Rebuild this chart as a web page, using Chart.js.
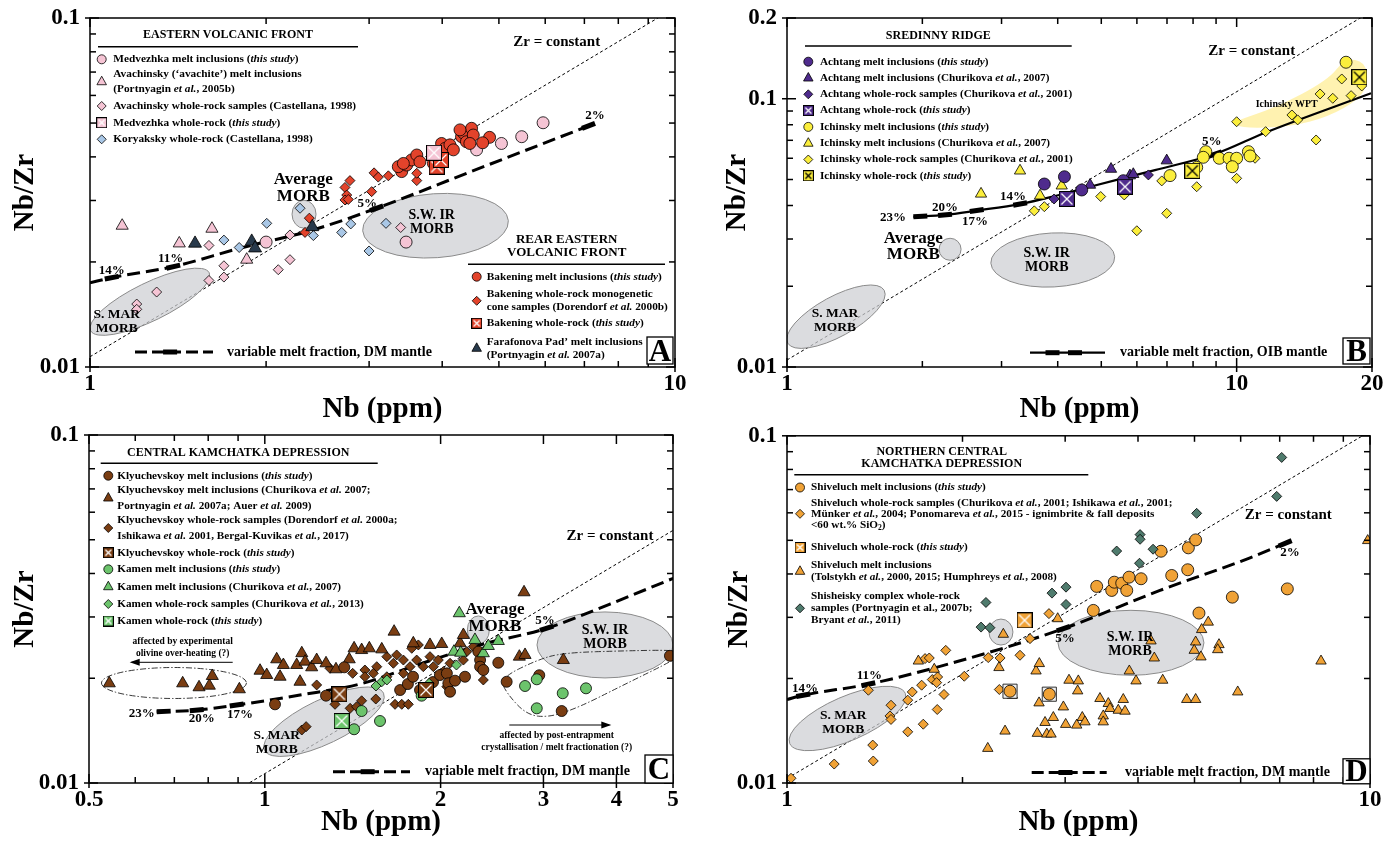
<!DOCTYPE html>
<html>
<head>
<meta charset="utf-8">
<script src="https://cdn.jsdelivr.net/npm/chart.js@4.4.1/dist/chart.umd.min.js"></script>
<style>
  html, body { margin: 0; padding: 0; background: #fff; }
  #wrap { position: relative; width: 1398px; height: 843px; overflow: hidden; }
  canvas { position: absolute; }
</style>
</head>
<body>
<div id="wrap">
  <canvas id="cA" width="699" height="425" style="left:0;top:0"></canvas>
  <canvas id="cB" width="699" height="425" style="left:699px;top:0"></canvas>
  <canvas id="cC" width="699" height="418" style="left:0;top:425px"></canvas>
  <canvas id="cD" width="699" height="418" style="left:699px;top:425px"></canvas>
</div>
<script>
const SERIF = '"Liberation Serif", "Times New Roman", serif';

// ---------- tick values / labels
const xTicksA = [1, 2, 3, 4, 5, 6, 7, 8, 9, 10];
const xLabelsA = ['1', '10'];
const yTicksA = [0.01, 0.02, 0.03, 0.04, 0.05, 0.06, 0.07, 0.08, 0.09, 0.1];
const yLabelsA = ['0.01', '0.1'];
const xTicksB = [1, 2, 3, 4, 5, 6, 7, 8, 9, 10, 20];
const xLabelsB = ['1', '10', '20'];
const yTicksB = [0.01, 0.02, 0.03, 0.04, 0.05, 0.06, 0.07, 0.08, 0.09, 0.1, 0.2];
const yLabelsB = ['0.01', '0.1', '0.2'];
const xTicksC = [0.5, 0.6, 0.7, 0.8, 0.9, 1, 2, 3, 4, 5];
const xLabelsC = ['0.5', '1', '2', '3', '4', '5'];

// ---------- A: Eastern Volcanic Front (Nb ppm, Nb/Zr)
const medvezhkaMI = [[2.00,0.0228],[3.47,0.0228],[4.58,0.0419],[5.05,0.0437],[5.47,0.0457],[5.95,0.0501]];
const avachinskyMI = [[1.135,0.0254],[1.421,0.0226],[1.616,0.0249],[1.853,0.0203]];
const avachinskyWR = [[1.597,0.0223],[1.694,0.0195],[1.694,0.0181],[1.597,0.0177],[1.300,0.0164],[1.202,0.01515],
  [1.202,0.01463],[2.197,0.0239],[2.098,0.0190],[2.197,0.0203],[3.397,0.0251]];
const medvezhkaWR = [[3.873,0.0411]];
const koryakskyWR = [[2.286,0.0285],[2.005,0.0258],[1.694,0.0231],[1.799,0.0220],[2.409,0.0238],[2.693,0.0243],
  [2.791,0.0257],[3.206,0.0258],[2.999,0.0215]];
const farafonovaMI = [[1.512,0.0226],[1.89,0.0229],[1.915,0.0219],[2.399,0.0252]];
const bakeningMI = [[3.41,0.0363],[3.365,0.0375],[3.478,0.0379],[3.545,0.0392],[3.619,0.0405],[3.664,0.0387],
  [3.433,0.0383],[3.864,0.0383],[3.99,0.0437],[4.045,0.0423],[4.124,0.0433],[4.18,0.0419],[4.316,0.0457],
  [4.35,0.0468],[4.40,0.0442],[4.49,0.0483],[4.52,0.0462],[4.46,0.0437],[4.82,0.0455],[4.29,0.0478],[4.69,0.0439]];
const bakeningWR = [[3.059,0.0360],[3.11,0.0350],[3.236,0.0353],[2.782,0.0342],[2.728,0.0327],[2.747,0.0311],
  [2.728,0.0301],[2.764,0.0302],[3.03,0.0318],[3.619,0.0342],[3.619,0.0359],[2.371,0.0267],[2.331,0.0243],[4.70,0.0439]];
const bakeningWRts = [[3.915,0.0375],[3.98,0.0392]];
const zrA = [[1,0.0107],[10,0.107]];
const meltA = [[1.0,0.01744],[1.089,0.01803],[1.388,0.01939],[1.804,0.0219],[2.405,0.0247],[3.09,0.0285],
  [4.46,0.0362],[6.36,0.0456],[7.30,0.0499]];

// ---------- B: Sredinny Ridge
const achtangMI = [[3.735,0.0481],[4.14,0.0512],[4.524,0.0457],[5.598,0.0495]];
const achtangMIc = [[4.72,0.0477],[5.256,0.0547],[5.79,0.0517],[5.89,0.0523],[6.99,0.0588]];
const achtangWR = [[3.926,0.0423],[6.364,0.0520]];
const achtangWRts = [[4.19,0.0423],[5.647,0.0470]];
const ichinskyMI = [[8.54,0.0635],[8.43,0.0605],[8.15,0.0555],[7.11,0.0517],[9.15,0.060],[9.62,0.060],[10.0,0.060],
  [9.78,0.0558],[10.62,0.0635],[10.71,0.0612],[17.51,0.1368]];
const ichinskyMIc = [[2.701,0.0442],[3.298,0.0539],[3.654,0.0435],[4.083,0.0474]];
const ichinskyWR = [[3.548,0.0382],[3.735,0.0396],[4.985,0.0432],[5.624,0.0438],[6.815,0.0494],[6.99,0.0374],
  [5.998,0.0322],[8.15,0.0470],[10.0,0.0505],[10.0,0.0821],[11.6,0.0754],[10.99,0.060],[15.02,0.0702],[13.27,0.0870],
  [13.67,0.0834],[15.33,0.1042],[16.36,0.1004],[17.13,0.1185],[17.97,0.1027],[18.98,0.1116]];
const ichinskyWRts = [[7.97,0.0539],[18.75,0.1203]];
const ichinskyWPT = [[9.75,0.0821],[12.17,0.0922],[16.0,0.1175],[17.42,0.1416],[19.31,0.1375],[19.63,0.1142],
  [18.65,0.099],[16.0,0.0858],[13.27,0.0787],[10.26,0.0776]];
const zrB = [[1,0.01062],[20,0.2124]];
const meltB = [[1.91,0.0363],[2.246,0.0369],[2.642,0.0383],[3.30,0.0405],[3.905,0.0432],[4.72,0.047],
  [6.58,0.0542],[8.95,0.0622],[11.57,0.0747],[19.9,0.1048]];

// ---------- C: Central Kamchatka Depression
const klyuMI = [[1.041,0.01683],[1.273,0.01782],[1.368,0.0215],[1.705,0.0185],[1.758,0.01925],[1.794,0.0202],
  [1.844,0.0185],[1.941,0.0195],[1.995,0.02043],[2.05,0.02066],[2.062,0.01934],[2.076,0.01829],[2.117,0.01968],
  [2.202,0.0202],[2.321,0.02384],[2.337,0.02256],[2.337,0.02159],[2.367,0.02112],[2.511,0.02216],[2.595,0.01954],
  [2.951,0.0204],[3.224,0.0161],[4.94,0.0232]];
const klyuMIc = [[0.5416,0.01934],[0.7234,0.01934],[0.7716,0.01884],[0.8035,0.01904],[0.813,0.0203],[0.9045,0.01859],
  [0.9814,0.02102],[1.0076,0.02043],[1.048,0.02267],[1.076,0.02183],[1.062,0.0202],[1.134,0.02183],[1.157,0.0236],
  [1.172,0.02232],[1.203,0.0215],[1.227,0.02256],[1.273,0.02208],[1.324,0.02122],[1.395,0.02267],[1.422,0.02438],
  [1.465,0.0241],[1.51,0.02438],[1.586,0.02421],[1.665,0.02722],[1.796,0.0252],[1.918,0.02493],[2.009,0.02509],
  [2.16,0.0252],[2.188,0.02663],[2.779,0.03532],[2.728,0.02307],[2.79,0.02333],[3.245,0.02256],[1.149,0.01954]];
const klyuWR = [[1.157,0.0142],[1.177,0.01452],[1.227,0.01913],[1.293,0.02136],[1.319,0.01683],[1.40,0.01639],
  [1.436,0.01656],[1.465,0.01723],[1.549,0.01743],[1.414,0.02066],[1.484,0.02112],[1.534,0.02066],[1.484,0.0202],
  [1.555,0.02159],[1.618,0.0202],[1.618,0.02307],[1.66,0.02208],[1.682,0.02333],[1.727,0.02256],[1.727,0.02066],
  [1.773,0.02159],[1.785,0.02438],[1.82,0.02256],[1.832,0.02493],[1.868,0.02159],[1.918,0.02307],[1.918,0.01891],
  [1.944,0.02159],[1.982,0.02256],[2.022,0.0209],[2.05,0.01891],[2.076,0.02208],[2.188,0.02256],[2.217,0.02384],
  [2.275,0.02465],[2.367,0.01977],[1.671,0.01683],[1.716,0.01683],[1.761,0.01683]];
const klyuWRts = [[1.342,0.01799],[1.888,0.0185]];
const kamenMI = [[1.465,0.0161],[1.422,0.01427],[1.575,0.01507],[1.856,0.01782],[2.79,0.0190],[2.922,0.01986],
  [2.922,0.01639],[3.237,0.01811],[3.548,0.01871]];
const kamenMIc = [[2.153,0.03075],[2.29,0.02577],[2.367,0.0236],[2.414,0.02476],[2.511,0.02559],[2.108,0.02384],[2.165,0.02368]];
const kamenWR = [[1.55,0.0190],[1.586,0.01954],[1.618,0.01977],[2.129,0.02183],[1.911,0.01934]];
const kamenWRts = [[1.354,0.01507]];
const zrC = [[0.5,0.00532],[5,0.0532]];
const meltC = [[0.653,0.01603],[0.7646,0.0162],[0.895,0.01675],[1.149,0.0179],[1.455,0.01925],[1.844,0.02198],
  [2.337,0.02493],[3.038,0.02783],[3.90,0.03268],[5.006,0.03875]];
const overheatC = [[0.699,0.01938]];
const fractC = [[2.528,0.01999],[2.922,0.02256],[3.245,0.02368],[4.2,0.024],[5.0,0.0241],[5.3,0.0236],[4.058,0.01891],
  [3.465,0.01656],[3.078,0.01544],[2.809,0.01568],[2.595,0.01811]];

// ---------- D: Northern Central Kamchatka Depression
const shivMI = [[2.413,0.01838],[2.818,0.01802],[3.353,0.03141],[3.398,0.03683],[3.606,0.03586],[3.643,0.03788],
  [3.751,0.03763],[3.826,0.03586],[3.861,0.03916],[4.049,0.03875],[4.381,0.04651],[4.57,0.0396],[4.868,0.04113],
  [4.88,0.04757],[5.023,0.05014],[5.089,0.03086],[5.806,0.0343],[7.214,0.03623]];
const shivWR = [[1.016,0.01032],[1.205,0.01134],[1.406,0.01157],[1.403,0.01286],[1.379,0.0185],[1.508,0.01675],
  [1.502,0.0156],[1.508,0.01524],[1.611,0.01404],[1.611,0.01732],[1.64,0.01829],[1.702,0.01913],[1.713,0.01477],
  [1.775,0.01986],[1.813,0.0202],[1.806,0.01946],[1.81,0.01628],[1.859,0.01799],[1.725,0.02282],[1.754,0.02291],
  [1.872,0.0241],[2.014,0.0203],[2.214,0.02297],[2.32,0.02291],[2.313,0.01859],[2.51,0.02333],[2.611,0.02605],[2.814,0.03075]];
const shivWRts = [[2.556,0.02941]];
const shivWRbox = [[2.413,0.01838],[2.818,0.01802]];
const shivMIt = [[1.68,0.02245],[1.789,0.02126],[2.21,0.01258],[2.31,0.0215],[2.35,0.02681],[2.366,0.01411],
  [2.435,0.0179],[2.674,0.02102],[2.688,0.0139],[2.709,0.02208],[2.706,0.01701],[2.771,0.01494],[2.79,0.01383],
  [2.837,0.01383],[2.863,0.01544],[2.913,0.02973],[2.979,0.01656],[3.006,0.01475],[3.046,0.01977],[3.14,0.01468],
  [3.152,0.01842],[3.16,0.01968],[3.21,0.01544],[3.244,0.015],[3.442,0.01751],[3.487,0.0156],[3.487,0.015],
  [3.557,0.01694],[3.581,0.01639],[3.70,0.0162],[3.774,0.0174],[3.80,0.0161],[3.865,0.02102],[3.969,0.01968],
  [4.211,0.02565],[4.266,0.02291],[4.41,0.01977],[4.849,0.0174],[5.023,0.0174],[5.023,0.02547],[4.995,0.0241],
  [5.129,0.02307],[5.143,0.02766],[5.279,0.02906],[5.508,0.02503],[5.48,0.02421],[5.931,0.01829],[8.241,0.02245],[9.91,0.04991]];
const shishWR = [[2.152,0.02812],[2.229,0.02801],[2.194,0.03311],[2.848,0.03523],[3.01,0.03665],[3.01,0.03268],
  [3.677,0.04657],[4.033,0.05193],[4.033,0.05035],[4.245,0.04713],[4.024,0.04295],[5.043,0.05979],[6.918,0.06691],[7.056,0.08663]];
const zrD = [[1,0.0103],[10,0.103]];
const meltD = [[1.0,0.0174],[1.066,0.0179],[1.379,0.01925],[1.904,0.02208],[2.979,0.02783],[4.363,0.03586],
  [6.226,0.04452],[7.339,0.04991]];

// MORB fields (centres in data units)
const smarA = [1.266, 0.01538], avgA = [2.322, 0.0274], swirA = [3.896, 0.0254];
const smarB = [1.285, 0.0154], avgB = [2.305, 0.02747], swirB = [3.90, 0.02506];
const smarC = [1.263, 0.0150], avgC = [2.321, 0.02753], swirC = [3.824, 0.02493];
const smarD = [1.27, 0.01534], avgD = [2.328, 0.02721], swirD = [3.89, 0.02534];

// colours
const PINK = '#f5c4d4', BLUE = '#a9c7e6', RED = '#e3432b', DARK = '#283a4c';
const PURPLE = '#4f2b8d', YELLOW = '#fbee3c', BROWN = '#7a3d12', GREEN = '#6cc46c';
const ORANGE = '#f0a236', SHISH = '#4f7b6d';

// ---------- helpers
function pts(a) { return a.map(p => ({ x: p[0], y: p[1] })); }

function makeBox(fill, xc, s) {
  const c = document.createElement('canvas');
  c.width = s; c.height = s;
  const g = c.getContext('2d');
  g.fillStyle = fill; g.fillRect(0, 0, s, s);
  g.strokeStyle = xc; g.lineWidth = 1.3;
  const m = 2.5;
  g.beginPath(); g.moveTo(m, m); g.lineTo(s - m, s - m); g.moveTo(s - m, m); g.lineTo(m, s - m); g.stroke();
  g.strokeStyle = '#000'; g.lineWidth = 1; g.strokeRect(0.5, 0.5, s - 1, s - 1);
  return c;
}

function series(s, order) {
  const ds = {
    type: 'scatter', data: pts(s.data), order: order,
    pointBackgroundColor: s.color, pointBorderColor: '#000', pointBorderWidth: 0.8,
    pointRadius: s.r, pointHoverRadius: s.r, pointStyle: s.shape
  };
  if (s.shape === 'box') { ds.pointStyle = makeBox(s.color, s.xc || '#fff', s.r * 2); }
  return ds;
}

function rich(ctx, str, x, y, size, align, sx) {
  const parts = str.split(/(\*[^*]+\*|~[^~]+~)/).filter(Boolean).map(p => {
    if (p[0] === '*') return { t: p.slice(1, -1), f: 'italic bold ' + size + 'px ' + SERIF, dy: 0 };
    if (p[0] === '~') return { t: p.slice(1, -1), f: 'bold ' + (size * 0.68) + 'px ' + SERIF, dy: size * 0.28 };
    return { t: p, f: 'bold ' + size + 'px ' + SERIF, dy: 0 };
  });
  let w = 0;
  parts.forEach(p => { ctx.font = p.f; p.w = ctx.measureText(p.t).width; w += p.w; });
  ctx.save();
  ctx.translate(x, y); ctx.scale(sx || 1, 1);
  let cx = align === 'left' ? 0 : (align === 'right' ? -w : -w / 2);
  ctx.textBaseline = 'middle'; ctx.textAlign = 'left'; ctx.fillStyle = '#000';
  parts.forEach(p => { ctx.font = p.f; ctx.fillText(p.t, cx, p.dy); cx += p.w; });
  ctx.restore();
}

function marker(ctx, sh, x, y, r, fill, xc) {
  ctx.save();
  if (sh === 'box') {
    const s = Math.round(r * 2);
    ctx.drawImage(makeBox(fill, xc || '#fff', s), x - s / 2, y - s / 2);
    ctx.restore(); return;
  }
  ctx.fillStyle = fill; ctx.strokeStyle = '#000'; ctx.lineWidth = 0.8;
  ctx.beginPath();
  if (sh === 'circle') ctx.arc(x, y, r, 0, Math.PI * 2);
  else if (sh === 'triangle') {
    ctx.moveTo(x, y - r); ctx.lineTo(x + r * 0.866, y + r * 0.55); ctx.lineTo(x - r * 0.866, y + r * 0.55); ctx.closePath();
  } else {
    ctx.moveTo(x, y - r); ctx.lineTo(x + r, y); ctx.lineTo(x, y + r); ctx.lineTo(x - r, y); ctx.closePath();
  }
  ctx.fill(); ctx.stroke();
  ctx.restore();
}

function smoothClosed(ctx, p) {
  const n = p.length;
  const mid = (a, b) => [(a[0] + b[0]) / 2, (a[1] + b[1]) / 2];
  const m0 = mid(p[n - 1], p[0]);
  ctx.moveTo(m0[0], m0[1]);
  for (let i = 0; i < n; i++) {
    const m = mid(p[i], p[(i + 1) % n]);
    ctx.quadraticCurveTo(p[i][0], p[i][1], m[0], m[1]);
  }
  ctx.closePath();
}

function seg(ctx, x1, y1, x2, y2) { ctx.beginPath(); ctx.moveTo(x1, y1); ctx.lineTo(x2, y2); ctx.stroke(); }

const PANELS = {};

const annot = {
  id: 'annot',
  afterDatasetDraw(chart, args) {
    const P = PANELS[chart.canvas.id];
    const { ctx, chartArea: a } = chart;
    const X = chart.scales.x, Y = chart.scales.y;
    const px = d => [X.getPixelForValue(d[0]), Y.getPixelForValue(d[1])];
    if (args.index === 0) {
      ctx.save();
      ctx.beginPath(); ctx.rect(a.left, a.top, a.right - a.left, a.bottom - a.top); ctx.clip();
      if (P.blob) {
        ctx.beginPath(); smoothClosed(ctx, P.blob.map(px));
        ctx.fillStyle = 'rgba(255,238,150,0.75)'; ctx.fill();
      }
      P.ellipses.forEach(e => {
        const c = px(e.c);
        ctx.beginPath(); ctx.ellipse(c[0], c[1], e.rx, e.ry, (e.rot || 0) * Math.PI / 180, 0, Math.PI * 2);
        ctx.fillStyle = 'rgba(205,206,211,0.72)'; ctx.fill();
        ctx.strokeStyle = '#8a8a8a'; ctx.lineWidth = 1; ctx.stroke();
      });
      (P.outlines || []).forEach(o => {
        ctx.beginPath();
        if (o.c) { const c = px(o.c); ctx.ellipse(c[0], c[1], o.rx, o.ry, 0, 0, Math.PI * 2); }
        else smoothClosed(ctx, o.poly.map(px));
        ctx.setLineDash([6, 2, 1.5, 2]); ctx.strokeStyle = '#222'; ctx.lineWidth = 0.9; ctx.stroke();
        ctx.setLineDash([]);
      });
      ctx.restore();
    }
    if (args.index === 1) {
      const p = P.melt.map(px);
      ctx.save();
      ctx.strokeStyle = '#000'; ctx.lineWidth = 5; ctx.lineCap = 'butt';
      P.meltMarks.forEach(i => {
        const a0 = p[Math.max(i - 1, 0)], a1 = p[Math.min(i + 1, p.length - 1)];
        let dx = a1[0] - a0[0], dy = a1[1] - a0[1];
        const L = Math.hypot(dx, dy); dx /= L; dy /= L;
        const h = 7, q = p[i];
        let s = [q[0] - dx * h, q[1] - dy * h], e = [q[0] + dx * h, q[1] + dy * h];
        if (i === 0) { s = q; e = [q[0] + dx * 2 * h, q[1] + dy * 2 * h]; }
        if (i === p.length - 1) { s = [q[0] - dx * 2 * h, q[1] - dy * 2 * h]; e = q; }
        seg(ctx, s[0], s[1], e[0], e[1]);
      });
      ctx.restore();
    }
  },
  afterDraw(chart) {
    const P = PANELS[chart.canvas.id];
    const { ctx, chartArea: a } = chart;
    const X = chart.scales.x, Y = chart.scales.y;
    const L = a.left, T = a.top;
    ctx.save();
    // frame + inward ticks
    ctx.strokeStyle = '#000'; ctx.lineWidth = 1.5;
    ctx.strokeRect(a.left, a.top, a.right - a.left, a.bottom - a.top);
    X.ticks.forEach(t => {
      const x = X.getPixelForValue(t.value);
      const major = P.xl.includes(String(t.value));
      const n = major ? 9 : 6;
      seg(ctx, x, a.bottom + (major ? 5 : 0), x, a.bottom - n);
      seg(ctx, x, a.top, x, a.top + n);
    });
    Y.ticks.forEach(t => {
      const y = Y.getPixelForValue(t.value);
      const major = P.yl.includes(String(t.value));
      const n = major ? 9 : 6;
      seg(ctx, a.left - (major ? 5 : 0), y, a.left + n, y);
      seg(ctx, a.right, y, a.right - n, y);
    });
    // legends
    P.legends.forEach(g => {
      g.hdr.forEach((h, k) => rich(ctx, h, L + g.hx, T + g.hy[k], g.hs, 'center'));
      ctx.lineWidth = 1.6; ctx.strokeStyle = '#000';
      seg(ctx, L + g.ul[0], T + g.ul[2], L + g.ul[1], T + g.ul[2]);
      g.items.forEach(it => {
        const r = it.sh === 'box' ? 5.5 : (it.sh === 'triangle' ? 5.5 : 4.5);
        marker(ctx, it.sh, L + g.mx, T + it.y, r, it.c, it.xc);
        const n = it.L.length;
        const dy = it.dy || g.dy;
        it.L.forEach((s, k) => rich(ctx, s, L + g.tx, T + it.y + (k - (n - 1) / 2) * dy, g.s, 'left', g.sx));
      });
    });
    // free texts
    P.texts.forEach(t => rich(ctx, t.t, L + t.x, T + t.y, t.s || 13, t.al || 'center', t.sx));
    // arrows
    (P.arrows || []).forEach(ar => {
      const x1 = L + ar[0], y1 = T + ar[1], x2 = L + ar[2], y2 = T + ar[3];
      ctx.lineWidth = 1; seg(ctx, x1, y1, x2, y2);
      const d = Math.sign(x2 - x1);
      ctx.beginPath(); ctx.moveTo(x2 + d * 2, y2); ctx.lineTo(x2 - d * 8, y2 - 3.5); ctx.lineTo(x2 - d * 8, y2 + 3.5);
      ctx.closePath(); ctx.fillStyle = '#000'; ctx.fill();
    });
    // melt-fraction key line
    const sm = P.sample;
    const sx1 = L + sm.x1, sx2 = L + sm.x2, sy = T + sm.y;
    ctx.lineWidth = sm.solid ? 2.2 : 3;
    ctx.setLineDash(sm.solid ? [] : [12, 5]);
    seg(ctx, sx1, sy, sx2, sy);
    ctx.setLineDash([]);
    ctx.lineWidth = 5;
    sm.marks.forEach(f => { const x = sx1 + f * (sx2 - sx1); seg(ctx, x - 7, sy, x + 7, sy); });
    // panel letter
    const b = P.letter;
    ctx.fillStyle = '#fff'; ctx.fillRect(L + b.x, T + b.y, b.w, b.h);
    ctx.lineWidth = 1.3; ctx.strokeRect(L + b.x, T + b.y, b.w, b.h);
    ctx.fillStyle = '#000'; ctx.font = 'bold 31px ' + SERIF; ctx.textAlign = 'center'; ctx.textBaseline = 'middle';
    ctx.fillText(b.t, L + b.x + b.w / 2, T + b.y + b.h / 2 + 2);
    ctx.restore();
  }
};

function build(id, P) {
  const datasets = [
    { type: 'line', data: pts(P.zr), borderColor: '#000', borderWidth: 1, borderDash: [3, 2.5], pointRadius: 0, order: 1000, fill: false },
    { type: 'line', data: pts(P.melt), borderColor: '#000', borderWidth: P.meltW, borderDash: P.meltDash,
      pointRadius: 0, order: 999, fill: false, cubicInterpolationMode: 'monotone' }
  ];
  const n = P.series.length;
  P.series.forEach((s, i) => datasets.push(series(s, n - i)));
  PANELS[id] = P;
  const xFont = { family: SERIF, size: 23, weight: 'bold', lineHeight: 1 };
  const yFont = { family: SERIF, size: 23, weight: 'bold', lineHeight: 0.8 };
  const titleFont = { family: SERIF, size: 29, weight: 'bold', lineHeight: 1.1 };
  new Chart(document.getElementById(id), {
    type: 'scatter',
    data: { datasets },
    options: {
      responsive: false, animation: false, devicePixelRatio: 1, events: [],
      layout: { padding: { top: P.pad[0], right: P.pad[1], left: 0, bottom: 0 } },
      plugins: { legend: { display: false }, tooltip: { enabled: false } },
      scales: {
        x: {
          type: 'logarithmic', min: P.xr[0], max: P.xr[1],
          grid: { display: false, drawTicks: false }, border: { display: false },
          afterBuildTicks: sc => { sc.ticks = P.xt.map(v => ({ value: v })); },
          afterFit: sc => { sc.height = P.xh; },
          ticks: { autoSkip: false, maxRotation: 0, minRotation: 0, padding: P.xpad, color: '#000', font: xFont,
            callback: v => P.xl.includes(String(v)) ? String(v) : '' },
          title: { display: true, text: 'Nb (ppm)', color: '#000', font: titleFont, padding: { top: 0, bottom: P.xtp } }
        },
        y: {
          type: 'logarithmic', min: P.yr[0], max: P.yr[1],
          grid: { display: false, drawTicks: true, tickLength: 10 }, border: { display: false },
          afterBuildTicks: sc => { sc.ticks = P.yt.map(v => ({ value: v })); },
          afterFit: sc => { sc.width = P.yw; },
          ticks: { autoSkip: false, padding: 0, color: '#000', font: yFont,
            callback: v => P.yl.includes(String(v)) ? String(v) : '' },
          title: { display: true, text: 'Nb/Zr', color: '#000', font: titleFont, padding: { top: P.ytp, bottom: 0 } }
        }
      }
    },
    plugins: [annot]
  });
}

// ---------- Panel A
build('cA', {
  pad: [18, 24], yw: 90, xh: 58, xpad: 6, xtp: 0, ytp: 10,
  xr: [1, 10], yr: [0.01, 0.1], xt: xTicksA, xl: xLabelsA, yt: yTicksA, yl: yLabelsA,
  zr: zrA, melt: meltA, meltW: 3, meltDash: [13, 6], meltMarks: [1, 2, 5, 8],
  series: [
    { data: avachinskyWR, shape: 'rectRot', color: PINK, r: 5 },
    { data: koryakskyWR, shape: 'rectRot', color: BLUE, r: 5 },
    { data: avachinskyMI, shape: 'triangle', color: PINK, r: 7 },
    { data: medvezhkaMI, shape: 'circle', color: PINK, r: 6 },
    { data: bakeningWR, shape: 'rectRot', color: RED, r: 5 },
    { data: bakeningMI, shape: 'circle', color: RED, r: 6 },
    { data: bakeningWRts, shape: 'box', color: RED, r: 8 },
    { data: medvezhkaWR, shape: 'box', color: PINK, r: 8 },
    { data: farafonovaMI, shape: 'triangle', color: DARK, r: 7.5 }
  ],
  ellipses: [
    { c: smarA, rx: 66, ry: 19, rot: -26 },
    { c: avgA, rx: 12, ry: 14 },
    { c: swirA, rx: 73, ry: 32, rot: -4 }
  ],
  texts: [
    { t: 'Zr = constant', x: 466.7, y: 23.7, s: 15 },
    { t: 'Average', x: 213.3, y: 161.3, s: 17 }, { t: 'MORB', x: 213.3, y: 178.7, s: 17 },
    { t: 'S. MAR', x: 26.7, y: 297, s: 13.5 }, { t: 'MORB', x: 26.7, y: 311, s: 13.5 },
    { t: 'S.W. IR', x: 341.7, y: 197, s: 14 }, { t: 'MORB', x: 341.7, y: 211.5, s: 14 },
    { t: '14%', x: 21.7, y: 252.7 }, { t: '11%', x: 80.7, y: 240.3 }, { t: '5%', x: 277.3, y: 186 }, { t: '2%', x: 505, y: 98 },
    { t: 'variable melt fraction, DM mantle', x: 137, y: 334, s: 14, al: 'left' }
  ],
  legends: [
    { hdr: ['EASTERN VOLCANIC FRONT'], hx: 138, hy: [17], hs: 12, ul: [8, 268, 28.7], mx: 11.7, tx: 23.3, s: 11.3, dy: 15.3,
      items: [
        { sh: 'circle', c: PINK, y: 41.3, L: ['Medvezhka melt inclusions (*this study*)'] },
        { sh: 'triangle', c: PINK, y: 63.7, L: ['Avachinsky (‘avachite’) melt inclusions', '(Portnyagin *et al.*, 2005b)'] },
        { sh: 'rectRot', c: PINK, y: 88, L: ['Avachinsky whole-rock samples (Castellana, 1998)'] },
        { sh: 'box', c: PINK, y: 104.7, L: ['Medvezhka whole-rock (*this study*)'] },
        { sh: 'rectRot', c: BLUE, y: 121.3, L: ['Koryaksky whole-rock (Castellana, 1998)'] }
      ] },
    { hdr: ['REAR EASTERN', 'VOLCANIC FRONT'], hx: 476.7, hy: [221.3, 234.7], hs: 13, ul: [378, 575, 246.3], mx: 386.7, tx: 396.7, s: 11.3, dy: 13.3,
      items: [
        { sh: 'circle', c: RED, y: 258.7, L: ['Bakening melt inclusions (*this study*)'] },
        { sh: 'rectRot', c: RED, y: 282.8, L: ['Bakening whole-rock monogenetic', 'cone samples (Dorendorf *et al.* 2000b)'] },
        { sh: 'box', c: RED, y: 305.3, L: ['Bakening whole-rock (*this study*)'] },
        { sh: 'triangle', c: DARK, y: 330.3, L: ['Farafonova Pad’ melt inclusions', '(Portnyagin *et al.* 2007a)'] }
      ] }
  ],
  sample: { x1: 45, x2: 123, y: 334, solid: false, marks: [0.45] },
  letter: { t: 'A', x: 557, y: 319, w: 26, h: 27 }
});

// ---------- Panel B
build('cB', {
  pad: [18, 26], yw: 88, xh: 58, xpad: 6, xtp: 0, ytp: 23,
  xr: [1, 20], yr: [0.01, 0.2], xt: xTicksB, xl: xLabelsB, yt: yTicksB, yl: yLabelsB,
  zr: zrB, melt: meltB, meltW: 2.2, meltDash: [], meltMarks: [0, 1, 2, 3, 7],
  blob: ichinskyWPT,
  series: [
    { data: ichinskyWR, shape: 'rectRot', color: YELLOW, r: 5 },
    { data: ichinskyMIc, shape: 'triangle', color: YELLOW, r: 6.5 },
    { data: ichinskyMI, shape: 'circle', color: YELLOW, r: 6 },
    { data: ichinskyWRts, shape: 'box', color: YELLOW, xc: '#000', r: 8 },
    { data: achtangWR, shape: 'rectRot', color: PURPLE, r: 5 },
    { data: achtangMIc, shape: 'triangle', color: PURPLE, r: 6.5 },
    { data: achtangMI, shape: 'circle', color: PURPLE, r: 6 },
    { data: achtangWRts, shape: 'box', color: PURPLE, r: 8 }
  ],
  ellipses: [
    { c: smarB, rx: 55, ry: 20, rot: -28.7 },
    { c: avgB, rx: 11, ry: 11 },
    { c: swirB, rx: 62, ry: 27, rot: -3 }
  ],
  texts: [
    { t: 'Zr = constant', x: 464.7, y: 32.7, s: 15 },
    { t: 'Average', x: 126.3, y: 220.3, s: 17 }, { t: 'MORB', x: 126.3, y: 237, s: 17 },
    { t: 'S. MAR', x: 48, y: 296, s: 13.5 }, { t: 'MORB', x: 48, y: 310, s: 13.5 },
    { t: 'S.W. IR', x: 259.7, y: 235.3, s: 14 }, { t: 'MORB', x: 259.7, y: 249.5, s: 14 },
    { t: 'Ichinsky WPT', x: 499.7, y: 86, s: 10 },
    { t: '23%', x: 106, y: 200 }, { t: '20%', x: 158, y: 189.3 }, { t: '17%', x: 188, y: 203.7 },
    { t: '14%', x: 226, y: 178.7 }, { t: '5%', x: 424.7, y: 123.7 },
    { t: 'variable melt fraction, OIB mantle', x: 333, y: 334.7, s: 14, al: 'left' }
  ],
  legends: [
    { hdr: ['SREDINNY RIDGE'], hx: 151.3, hy: [18], hs: 12, ul: [18, 284.7, 28], mx: 21.3, tx: 33, s: 11.2, dy: 15,
      items: [
        { sh: 'circle', c: PURPLE, y: 43.7, L: ['Achtang melt inclusions (*this study*)'] },
        { sh: 'triangle', c: PURPLE, y: 60, L: ['Achtang melt inclusions (Churikova *et al.*, 2007)'] },
        { sh: 'rectRot', c: PURPLE, y: 76.3, L: ['Achtang whole-rock samples (Churikova *et al.*, 2001)'] },
        { sh: 'box', c: PURPLE, y: 92.6, L: ['Achtang whole-rock (*this study*)'] },
        { sh: 'circle', c: YELLOW, y: 108.9, L: ['Ichinsky melt inclusions (*this study*)'] },
        { sh: 'triangle', c: YELLOW, y: 125.2, L: ['Ichinsky melt inclusions (Churikova *et al.*, 2007)'] },
        { sh: 'rectRot', c: YELLOW, y: 141.5, L: ['Ichinsky whole-rock samples (Churikova *et al.*, 2001)'] },
        { sh: 'box', c: YELLOW, xc: '#000', y: 157.8, L: ['Ichinsky whole-rock (*this study*)'] }
      ] }
  ],
  sample: { x1: 243, x2: 318, y: 334.7, solid: true, marks: [0.3, 0.6] },
  letter: { t: 'B', x: 556, y: 320, w: 27, h: 26 }
});

// ---------- Panel C
build('cC', {
  pad: [10, 26], yw: 89, xh: 60, xpad: 6, xtp: 5, ytp: 10,
  xr: [0.5, 5], yr: [0.01, 0.1], xt: xTicksC, xl: xLabelsC, yt: yTicksA, yl: yLabelsA,
  zr: zrC, melt: meltC, meltW: 3, meltDash: [13, 6], meltMarks: [0, 1, 2, 7],
  series: [
    { data: klyuWR, shape: 'rectRot', color: BROWN, r: 5 },
    { data: klyuMIc, shape: 'triangle', color: BROWN, r: 7 },
    { data: klyuMI, shape: 'circle', color: BROWN, r: 5.5 },
    { data: kamenWR, shape: 'rectRot', color: GREEN, r: 5 },
    { data: kamenMIc, shape: 'triangle', color: GREEN, r: 7 },
    { data: kamenMI, shape: 'circle', color: GREEN, r: 5.5 },
    { data: klyuWRts, shape: 'box', color: BROWN, r: 8 },
    { data: kamenWRts, shape: 'box', color: GREEN, r: 8 }
  ],
  ellipses: [
    { c: smarC, rx: 66, ry: 22, rot: -25.6 },
    { c: avgC, rx: 11, ry: 14 },
    { c: swirC, rx: 68, ry: 33 }
  ],
  outlines: [
    { c: overheatC[0], rx: 72.5, ry: 15.5 },
    { poly: fractC }
  ],
  arrows: [[143.7, 227.3, 42.7, 227.3], [420.3, 290, 520.3, 290]],
  texts: [
    { t: 'Zr = constant', x: 521, y: 101, s: 15 },
    { t: 'Average', x: 406, y: 175, s: 17 }, { t: 'MORB', x: 406, y: 191.7, s: 17 },
    { t: 'S. MAR', x: 187.7, y: 301, s: 13.5 }, { t: 'MORB', x: 187.7, y: 315, s: 13.5 },
    { t: 'S.W. IR', x: 516, y: 195, s: 14 }, { t: 'MORB', x: 516, y: 209, s: 14 },
    { t: 'affected by experimental', x: 93.7, y: 206.7, s: 9.5 },
    { t: 'olivine over-heating (?)', x: 93.7, y: 218.3, s: 9.5 },
    { t: 'affected by post-entrapment', x: 467.7, y: 301, s: 9.5 },
    { t: 'crystallisation / melt fractionation (?)', x: 467.7, y: 312.3, s: 9.5 },
    { t: '23%', x: 52.7, y: 278.3 }, { t: '20%', x: 112.7, y: 283.3 }, { t: '17%', x: 151, y: 280 }, { t: '5%', x: 456, y: 185.7 },
    { t: 'variable melt fraction, DM mantle', x: 336, y: 336.7, s: 14, al: 'left' }
  ],
  legends: [
    { hdr: ['CENTRAL KAMCHATKA DEPRESSION'], hx: 149.3, hy: [17.7], hs: 12, ul: [11.7, 288.7, 28.3], mx: 19.3, tx: 28.3, s: 11.2, dy: 16,
      items: [
        { sh: 'circle', c: BROWN, y: 40.7, L: ['Klyuchevskoy melt inclusions (*this study*)'] },
        { sh: 'triangle', c: BROWN, y: 63, L: ['Klyuchevskoy melt inclusions (Churikova *et al.* 2007;', 'Portnyagin *et al.* 2007a; Auer *et al.* 2009)'] },
        { sh: 'rectRot', c: BROWN, y: 93, L: ['Klyuchevskoy whole-rock samples (Dorendorf *et al.* 2000a;', 'Ishikawa *et al.* 2001, Bergal-Kuvikas *et al.*, 2017)'] },
        { sh: 'box', c: BROWN, y: 117.7, L: ['Klyuchevskoy whole-rock (*this study*)'] },
        { sh: 'circle', c: GREEN, y: 134.3, L: ['Kamen melt inclusions (*this study*)'] },
        { sh: 'triangle', c: GREEN, y: 151.7, L: ['Kamen melt inclusions (Churikova *et al.*, 2007)'] },
        { sh: 'rectRot', c: GREEN, y: 169, L: ['Kamen whole-rock samples (Churikova *et al.*, 2013)'] },
        { sh: 'box', c: GREEN, y: 186, L: ['Kamen whole-rock (*this study*)'] }
      ] }
  ],
  sample: { x1: 244, x2: 321, y: 336.7, solid: false, marks: [0.45] },
  letter: { t: 'C', x: 556, y: 320, w: 28, h: 28 }
});

// ---------- Panel D
build('cD', {
  pad: [10, 28], yw: 88, xh: 60, xpad: 6, xtp: 5, ytp: 25,
  xr: [1, 10], yr: [0.01, 0.1], xt: xTicksA, xl: xLabelsA, yt: yTicksA, yl: yLabelsA,
  zr: zrD, melt: meltD, meltW: 3, meltDash: [13, 6], meltMarks: [1, 2, 4, 7],
  series: [
    { data: shivWR, shape: 'rectRot', color: ORANGE, r: 5 },
    { data: shivMIt, shape: 'triangle', color: ORANGE, r: 6 },
    { data: shivWRbox, shape: 'rect', color: '#eeeeee', r: 10 },
    { data: shivMI, shape: 'circle', color: ORANGE, r: 6 },
    { data: shishWR, shape: 'rectRot', color: SHISH, r: 5 },
    { data: shivWRts, shape: 'box', color: ORANGE, r: 8 }
  ],
  ellipses: [
    { c: smarD, rx: 63, ry: 22, rot: -23.5 },
    { c: avgD, rx: 12, ry: 13 },
    { c: swirD, rx: 73, ry: 32.5 }
  ],
  texts: [
    { t: 'Zr = constant', x: 501.3, y: 79.3, s: 15 },
    { t: 'S. MAR', x: 56.3, y: 279.3, s: 13.5 }, { t: 'MORB', x: 56.3, y: 293.3, s: 13.5 },
    { t: 'S.W. IR', x: 343, y: 201.7, s: 14 }, { t: 'MORB', x: 343, y: 215.5, s: 14 },
    { t: '14%', x: 18, y: 252.7 }, { t: '11%', x: 82.3, y: 240 }, { t: '5%', x: 278, y: 203.3 }, { t: '2%', x: 503, y: 116.7 },
    { t: 'variable melt fraction, DM mantle', x: 338, y: 336.7, s: 14, al: 'left' }
  ],
  legends: [
    { hdr: ['NORTHERN CENTRAL', 'KAMCHATKA DEPRESSION'], hx: 154.7, hy: [15.7, 28.3], hs: 12, ul: [7.3, 301.3, 39], mx: 13, tx: 24, s: 11.2, dy: 12,
      items: [
        { sh: 'circle', c: ORANGE, y: 51.7, L: ['Shiveluch melt inclusions (*this study*)'] },
        { sh: 'rectRot', c: ORANGE, y: 78, dy: 11, L: ['Shiveluch whole-rock samples (Churikova *et al.*, 2001; Ishikawa *et al.*, 2001;',
          'Münker *et al.*, 2004; Ponomareva *et al.*, 2015 - ignimbrite & fall deposits', '<60 wt.% SiO~2~)'] },
        { sh: 'box', c: ORANGE, y: 111.7, L: ['Shiveluch whole-rock (*this study*)'] },
        { sh: 'triangle', c: ORANGE, y: 135.5, L: ['Shiveluch melt inclusions', '(Tolstykh *et al.*, 2000, 2015; Humphreys *et al.*, 2008)'] },
        { sh: 'rectRot', c: SHISH, y: 172.5, L: ['Shisheisky complex whole-rock', 'samples (Portnyagin et al., 2007b;', 'Bryant *et al.*, 2011)'] }
      ] }
  ],
  sample: { x1: 244.7, x2: 319.7, y: 336.7, solid: false, marks: [0.45] },
  letter: { t: 'D', x: 556, y: 323, w: 27, h: 25 }
});
</script>
</body>
</html>
